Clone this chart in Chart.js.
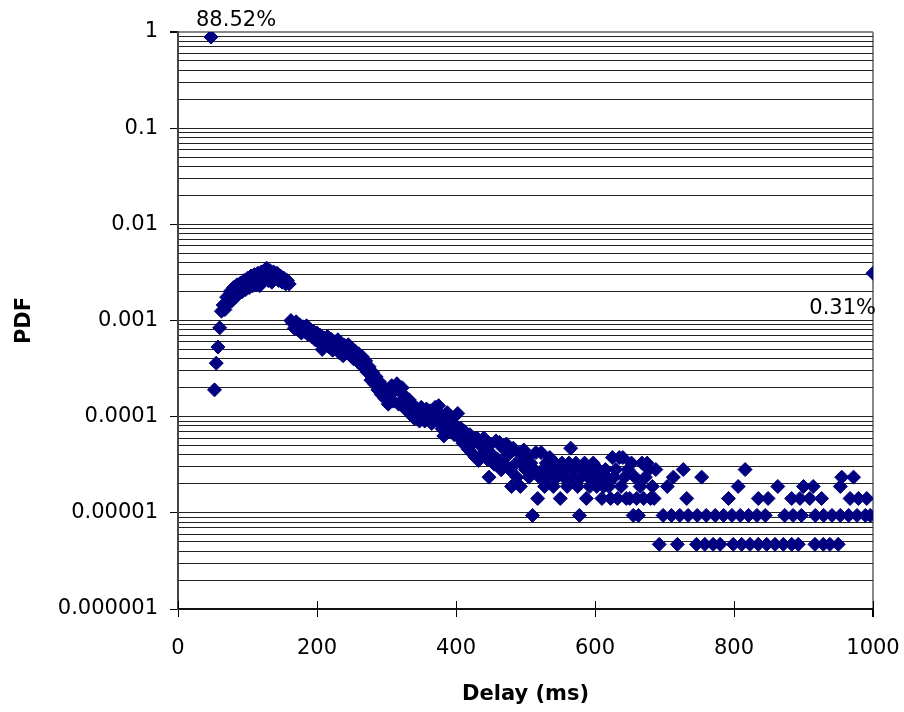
<!DOCTYPE html>
<html>
<head>
<meta charset="utf-8">
<script src="https://cdn.jsdelivr.net/npm/chart.js@4.4.1/dist/chart.umd.min.js"></script>
<style>
  html, body { margin: 0; padding: 0; background: #ffffff; }
  #wrap { width: 904px; height: 712px; }
</style>
</head>
<body>
<div id="wrap"><canvas id="c" width="904" height="712"></canvas></div>
<script>
// ---------------- DATA ----------------
// Rising part and peak
const headDelay = [47.5, 52.5, 55, 57.5, 60, 62.5, 65, 67.5, 70, 72.5, 75, 77.5, 80, 82.5, 85, 87.5, 90, 92.5, 95, 97.5,
  100, 102.5, 105, 107.5, 110, 112.5, 115, 117.5, 120, 122.5, 125, 127.5, 130, 132.5, 135, 137.5, 140, 142.5, 145, 147.5,
  150, 152.5, 155, 157.5, 160];
const headPdf = [0.8852, 1.9e-4, 3.6e-4, 5.3e-4, 8.4e-4, 1.25e-3, 1.45e-3, 1.3e-3, 1.75e-3, 1.5e-3, 2.0e-3, 1.6e-3, 2.2e-3, 1.75e-3, 2.35e-3, 1.9e-3, 2.45e-3, 2.0e-3, 2.6e-3, 2.1e-3,
  2.75e-3, 2.2e-3, 2.9e-3, 2.3e-3, 3.0e-3, 2.35e-3, 3.1e-3, 2.3e-3, 3.2e-3, 2.55e-3, 3.35e-3, 3.5e-3, 2.6e-3, 3.3e-3, 2.5e-3, 3.2e-3, 2.7e-3, 3.1e-3, 2.6e-3, 2.9e-3,
  2.5e-3, 2.75e-3, 2.4e-3, 2.6e-3, 2.4e-3];

// Decline 162.5 .. 345 ms
const declineDelay = [162.5, 165, 167.5, 170, 172.5, 175, 177.5, 180, 182.5, 185, 187.5, 190, 192.5, 195, 197.5, 200, 202.5, 205, 207.5, 210,
  212.5, 215, 217.5, 220, 222.5, 225, 227.5, 230, 232.5, 235, 237.5, 240, 242.5, 245, 247.5, 250, 252.5, 255, 257.5, 260,
  262.5, 265, 267.5, 270, 272.5, 275, 277.5, 280, 282.5, 285, 287.5, 290, 292.5, 295, 297.5, 300, 302.5, 305, 307.5, 310,
  312.5, 315, 317.5, 320, 322.5, 325, 327.5, 330, 332.5, 335, 337.5, 340, 342.5, 345];
const declinePdf = [1.0e-3, 9.4e-4, 8.3e-4, 9.7e-4, 8.0e-4, 9.0e-4, 7.4e-4, 8.6e-4, 7.7e-4, 8.8e-4, 7.1e-4, 8.1e-4, 6.8e-4, 7.7e-4, 6.3e-4, 7.4e-4, 6.0e-4, 7.0e-4, 5.0e-4, 6.6e-4,
  5.7e-4, 6.8e-4, 5.3e-4, 6.4e-4, 4.9e-4, 6.0e-4, 5.2e-4, 6.3e-4, 4.6e-4, 5.8e-4, 4.3e-4, 5.5e-4, 4.8e-4, 5.6e-4, 4.4e-4, 5.1e-4, 4.0e-4, 4.8e-4, 3.8e-4, 4.5e-4,
  3.5e-4, 4.2e-4, 3.2e-4, 3.8e-4, 2.9e-4, 3.3e-4, 2.4e-4, 2.9e-4, 2.2e-4, 2.6e-4, 1.9e-4, 2.3e-4, 1.7e-4, 2.0e-4, 1.55e-4, 1.9e-4, 1.35e-4, 1.7e-4, 2.1e-4, 1.45e-4,
  1.9e-4, 2.2e-4, 1.35e-4, 1.8e-4, 2.0e-4, 1.25e-4, 1.6e-4, 1.15e-4, 1.5e-4, 1.05e-4, 1.35e-4, 9.6e-5, 1.2e-4, 1.1e-4];

// Spread part 347.5 .. 500 ms
const spreadDelay = [347.5, 350, 352.5, 355, 357.5, 360, 362.5, 365, 367.5, 370, 372.5, 375, 377.5, 380, 382.5, 385, 387.5, 390, 392.5, 395,
  397.5, 400, 402.5, 405, 407.5, 410, 412.5, 415, 417.5, 420, 422.5, 425, 427.5, 430, 432.5, 435, 437.5, 440, 442.5, 445,
  447.5, 450, 452.5, 455, 457.5, 460, 462.5, 465, 467.5, 470, 472.5, 475, 477.5, 480, 482.5, 485, 487.5, 490, 492.5, 495,
  497.5, 500];
const spreadPdf = [9.0e-5, 1.25e-4, 1.05e-4, 9.0e-5, 1.2e-4, 1.0e-4, 1.15e-4, 8.5e-5, 1.1e-4, 1.25e-4, 9.0e-5, 1.3e-4, 1.05e-4, 7.5e-5, 6.3e-5, 9.0e-5, 1.1e-4, 7.0e-5, 9.5e-5, 8.0e-5,
  6.5e-5, 8.0e-5, 1.08e-4, 6.0e-5, 7.5e-5, 5.3e-5, 7.0e-5, 5.6e-5, 4.6e-5, 6.5e-5, 4.2e-5, 5.5e-5, 3.8e-5, 6.0e-5, 3.5e-5, 5.0e-5, 4.0e-5, 6.0e-5, 4.5e-5, 3.6e-5,
  2.35e-5, 5.2e-5, 4.0e-5, 3.2e-5, 5.6e-5, 3.6e-5, 5.4e-5, 2.8e-5, 4.7e-5, 3.2e-5, 5.2e-5, 4.0e-5, 2.8e-5, 1.88e-5, 4.7e-5, 3.2e-5, 2.35e-5, 4.2e-5, 1.88e-5, 3.3e-5,
  4.5e-5, 2.82e-5];

// Noisy tail 502.5 .. 690 ms
const tailDelay = [502.5, 505, 507.5, 510, 512.5, 515, 517.5, 520, 522.5, 525, 527.5, 530, 532.5, 535, 537.5, 540, 542.5, 545, 547.5, 550,
  552.5, 555, 557.5, 560, 562.5, 565, 567.5, 570, 572.5, 575, 577.5, 580, 582.5, 585, 587.5, 590, 592.5, 595, 597.5, 600,
  602.5, 605, 607.5, 610, 612.5, 615, 617.5, 620, 622.5, 625, 627.5, 630, 632.5, 635, 637.5, 640, 642.5, 645, 647.5, 650,
  652.5, 655, 657.5, 660, 662.5, 665, 667.5, 670, 672.5, 675, 677.5, 680, 682.5, 685, 687.5];
const tailPdf = [3.76e-5, 2.35e-5, 3.29e-5, 9.4e-6, 2.82e-5, 4.23e-5, 1.41e-5, 2.35e-5, 4.23e-5, 2.82e-5, 1.88e-5, 3.29e-5, 2.35e-5, 3.76e-5, 2.82e-5, 1.88e-5, 3.29e-5, 2.35e-5, 2.82e-5, 1.41e-5,
  3.29e-5, 2.35e-5, 2.82e-5, 1.88e-5, 3.29e-5, 4.7e-5, 2.35e-5, 2.82e-5, 3.29e-5, 1.88e-5, 9.4e-6, 2.35e-5, 2.82e-5, 3.29e-5, 1.41e-5, 2.35e-5, 1.88e-5, 2.82e-5, 3.29e-5, 2.35e-5,
  1.88e-5, 2.82e-5, 2.35e-5, 1.41e-5, 1.88e-5, 2.82e-5, 2.35e-5, 1.88e-5, 1.41e-5, 3.76e-5, 2.35e-5, 2.82e-5, 1.41e-5, 3.76e-5, 1.88e-5, 3.76e-5, 2.35e-5, 1.41e-5, 2.82e-5, 1.41e-5,
  3.29e-5, 9.4e-6, 2.35e-5, 1.41e-5, 9.4e-6, 1.88e-5, 3.29e-5, 1.41e-5, 2.35e-5, 3.29e-5, 2.82e-5, 1.41e-5, 1.88e-5, 1.41e-5, 2.82e-5];

// Sparse far tail, grouped by level
const sparseDelay1 = [692.5, 718.5, 746, 758, 770, 780, 799, 811, 823, 835, 847, 859, 871, 883, 892.5, 916.5, 928.5, 938, 950];
const sparsePdf1   = [4.7e-6, 4.7e-6, 4.7e-6, 4.7e-6, 4.7e-6, 4.7e-6, 4.7e-6, 4.7e-6, 4.7e-6, 4.7e-6, 4.7e-6, 4.7e-6, 4.7e-6, 4.7e-6, 4.7e-6, 4.7e-6, 4.7e-6, 4.7e-6, 4.7e-6];
const sparseDelay2 = [698, 710, 722, 734, 747, 760, 773, 785, 797, 809, 821, 833, 845, 873, 885, 897, 917, 929, 941, 953, 965, 977, 989, 996];
const sparsePdf2   = [9.4e-6, 9.4e-6, 9.4e-6, 9.4e-6, 9.4e-6, 9.4e-6, 9.4e-6, 9.4e-6, 9.4e-6, 9.4e-6, 9.4e-6, 9.4e-6, 9.4e-6, 9.4e-6, 9.4e-6, 9.4e-6, 9.4e-6, 9.4e-6, 9.4e-6, 9.4e-6, 9.4e-6, 9.4e-6, 9.4e-6, 9.4e-6];
const sparseDelay3 = [732, 792, 835, 849, 883, 895, 909, 926, 967, 979, 991];
const sparsePdf3   = [1.41e-5, 1.41e-5, 1.41e-5, 1.41e-5, 1.41e-5, 1.41e-5, 1.41e-5, 1.41e-5, 1.41e-5, 1.41e-5, 1.41e-5];
const sparseDelay4 = [704, 806, 863, 900, 914, 953, 712.7, 753.5, 955, 972, 727, 816];
const sparsePdf4   = [1.88e-5, 1.88e-5, 1.88e-5, 1.88e-5, 1.88e-5, 1.88e-5, 2.35e-5, 2.35e-5, 2.35e-5, 2.35e-5, 2.82e-5, 2.82e-5];
// Last bin (everything at / above 1000 ms)
const lastDelay = [1000];
const lastPdf = [3.1e-3];

// Labels written next to two points
const labelDelays = [47.5, 1000];
const labelTexts = ['88.52%', '0.31%'];

// Axis ticks
const xTicks = [0, 200, 400, 600, 800, 1000];
const xTickLabels = ['0', '200', '400', '600', '800', '1000'];
const yMajorValues = [1e-6, 1e-5, 1e-4, 1e-3, 1e-2, 1e-1, 1];
const yMajorLabels = ['0.000001', '0.00001', '0.0001', '0.001', '0.01', '0.1', '1'];

// ---------------- CHART ----------------
const allDelay = [].concat(headDelay, declineDelay, spreadDelay, tailDelay, sparseDelay1, sparseDelay2, sparseDelay3, sparseDelay4, lastDelay);
const allPdf = [].concat(headPdf, declinePdf, spreadPdf, tailPdf, sparsePdf1, sparsePdf2, sparsePdf3, sparsePdf4, lastPdf);
const points = allDelay.map((d, i) => ({ x: d, y: allPdf[i] }));

const FONT = '"DejaVu Sans", Verdana, sans-serif';
const NAVY = '#000080';

function majorIndex(v) {
  for (let i = 0; i < yMajorValues.length; i++) {
    if (Math.abs(v - yMajorValues[i]) / yMajorValues[i] < 1e-6) return i;
  }
  return -1;
}

const pointLabelPlugin = {
  id: 'pointLabels',
  afterDatasetsDraw(chart) {
    const meta = chart.getDatasetMeta(0);
    const ctx = chart.ctx;
    ctx.save();
    ctx.fillStyle = '#000';
    ctx.font = '21px ' + FONT;
    labelDelays.forEach((d, k) => {
      const idx = allDelay.indexOf(d);
      const el = meta.data[idx];
      if (!el) return;
      ctx.textBaseline = 'alphabetic';
      if (k === 0) {
        ctx.textAlign = 'left';
        ctx.fillText(labelTexts[k], el.x - 15, el.y - 11);
      } else {
        ctx.textAlign = 'right';
        ctx.fillText(labelTexts[k], el.x + 3, el.y + 41);
      }
    });
    ctx.restore();
  }
};

const innerTickPlugin = {
  id: 'innerTicks',
  beforeDatasetsDraw(chart) {
    const xs = chart.scales.x;
    const ctx = chart.ctx;
    ctx.save();
    ctx.strokeStyle = '#000';
    ctx.lineWidth = 1;
    xTicks.forEach(v => {
      const px = Math.round(xs.getPixelForValue(v)) + 0.5;
      ctx.beginPath();
      ctx.moveTo(px, chart.chartArea.bottom - 8);
      ctx.lineTo(px, chart.chartArea.bottom);
      ctx.stroke();
    });
    ctx.restore();
  }
};

new Chart(document.getElementById('c'), {
  type: 'scatter',
  data: {
    datasets: [{
      data: points,
      pointStyle: 'rectRot',
      pointRadius: 7,
      pointHoverRadius: 7,
      backgroundColor: NAVY,
      borderColor: NAVY,
      borderWidth: 1
    }]
  },
  options: {
    responsive: false,
    animation: false,
    devicePixelRatio: 1,
    layout: { padding: { top: 32, right: 31, bottom: 0, left: 0 } },
    plugins: { legend: { display: false }, tooltip: { enabled: false } },
    scales: {
      x: {
        type: 'linear',
        min: 0,
        max: 1000,
        afterFit: s => { s.height = 103; s.paddingLeft = 0; s.paddingRight = 0; },
        afterBuildTicks: s => { s.ticks = xTicks.map(v => ({ value: v })); },
        ticks: {
          font: { family: FONT, size: 21 }, color: '#000', padding: 19, maxRotation: 0,
          callback: v => { const i = xTicks.indexOf(v); return i >= 0 ? xTickLabels[i] : ''; }
        },
        grid: {
          drawOnChartArea: true,
          color: c => (c.tick && c.tick.value === 1000) ? '#888' : 'rgba(0,0,0,0)',
          lineWidth: c => (c.tick && c.tick.value === 1000) ? 2 : 1,
          tickColor: '#000',
          tickLength: 8
        },
        border: { color: '#111', width: 2 },
        title: { display: true, text: 'Delay (ms)', color: '#000', font: { family: FONT, size: 21, weight: 'bold' }, padding: { top: 0, bottom: 5 } }
      },
      y: {
        type: 'logarithmic',
        min: 1e-6,
        max: 1,
        afterFit: s => { s.width = 178; s.paddingTop = 0; s.paddingBottom = 0; },
        afterBuildTicks: s => {
          s.ticks = s.ticks.filter(t => {
            const m = t.value / Math.pow(10, Math.floor(Math.log10(t.value) + 1e-9));
            return Math.abs(m - Math.round(m)) < 1e-6;
          });
        },
        ticks: {
          autoSkip: false,
          font: { family: FONT, size: 21 },
          color: '#000',
          padding: 12,
          callback: v => { const i = majorIndex(v); return i >= 0 ? yMajorLabels[i] : ''; }
        },
        grid: {
          color: c => (c.tick && c.tick.value === 1) ? '#888' : '#222',
          lineWidth: c => (c.tick && c.tick.value === 1) ? 2 : 1,
          tickColor: c => (c.tick && majorIndex(c.tick.value) >= 0) ? '#000' : 'rgba(0,0,0,0)',
          tickLength: 8
        },
        border: { color: '#444', width: 2 },
        title: { display: true, text: 'PDF', color: '#000', font: { family: FONT, size: 21, weight: 'bold' }, padding: { top: 12, bottom: 0 } }
      }
    }
  },
  plugins: [innerTickPlugin, pointLabelPlugin]
});
</script>
</body>
</html>
